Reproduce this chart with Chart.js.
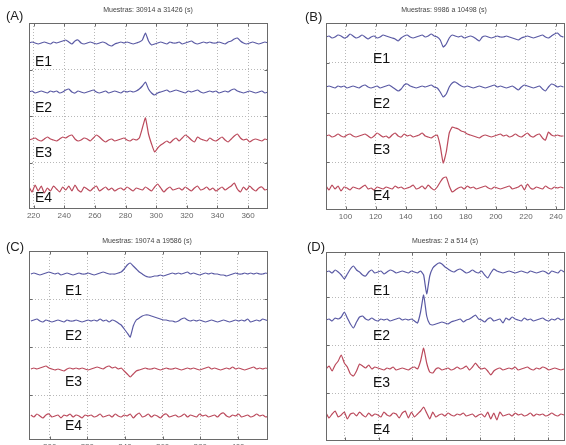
<!DOCTYPE html>
<html><head><meta charset="utf-8">
<script src="https://cdn.jsdelivr.net/npm/chart.js@4"></script>
<style>
html,body{margin:0;padding:0;background:#fff;width:566px;height:445px;overflow:hidden;position:relative;font-family:"Liberation Sans",Arial,sans-serif}
canvas{position:absolute}
.t{position:absolute;white-space:nowrap;line-height:1}
.let{font-size:13px;color:#222}
.tit{font-size:7px;color:#444;transform:translateX(-50%)}
.e{font-size:14px;color:#111}
</style></head><body>
<canvas id="cA" width="283" height="222" style="left:0;top:0"></canvas>
<canvas id="cB" width="283" height="222" style="left:283px;top:0"></canvas>
<canvas id="cC" width="283" height="236" style="left:0;top:222px"></canvas>
<canvas id="cD" width="283" height="236" style="left:283px;top:222px"></canvas>

<div class="t let" style="left:6px;top:9px">(A)</div>
<div class="t let" style="left:305px;top:10px">(B)</div>
<div class="t let" style="left:6px;top:240px">(C)</div>
<div class="t let" style="left:307px;top:240px">(D)</div>

<div class="t tit" style="left:148px;top:6px">Muestras: 30914 a 31426 (s)</div>
<div class="t tit" style="left:444px;top:6px">Muestras: 9986 a 10498 (s)</div>
<div class="t tit" style="left:147px;top:237px">Muestras: 19074 a 19586 (s)</div>
<div class="t tit" style="left:445px;top:237px">Muestras: 2 a 514 (s)</div>

<div class="t e" style="left:35px;top:54px">E1</div>
<div class="t e" style="left:35px;top:100px">E2</div>
<div class="t e" style="left:35px;top:145px">E3</div>
<div class="t e" style="left:35px;top:190px">E4</div>

<div class="t e" style="left:373px;top:51px">E1</div>
<div class="t e" style="left:373px;top:96px">E2</div>
<div class="t e" style="left:373px;top:142px">E3</div>
<div class="t e" style="left:373px;top:188px">E4</div>

<div class="t e" style="left:65px;top:283px">E1</div>
<div class="t e" style="left:65px;top:328px">E2</div>
<div class="t e" style="left:65px;top:374px">E3</div>
<div class="t e" style="left:65px;top:418px">E4</div>

<div class="t e" style="left:373px;top:283px">E1</div>
<div class="t e" style="left:373px;top:328px">E2</div>
<div class="t e" style="left:373px;top:375px">E3</div>
<div class="t e" style="left:373px;top:422px">E4</div>

<script>
// ---- Panel A: Muestras 30914 a 31426 ----
const ticksA = [220,240,260,280,300,320,340,360];
const startA = 217, stepA = 2;
const offsetsA = [166,117,69,20];
const gridYA = [46.5,93,139.5];
const A_E1 = [0,1,0,-1,0,1,0,-1,1,0, 1,2,3,1,-1,2,3,0,-1,0, 1,0,-1,0,1,0,-2,-3,-1,0, 1,0,1,0,-1,0,1,3,10,2, -2,-1,0,1,0,-1,1,0,0,1, -1,0,1,2,0,-1,0,1,0,1, 0,0,1,0,-1,1,2,4,5,2, 0,-1,0,1,0,-1,0,1,0];
const A_E2 = [0,1,-1,0,1,0,-1,1,0,1, -1,0,2,3,0,-1,1,0,-1,0, 1,2,0,-1,0,1,-1,0,1,0, -1,1,0,1,0,1,3,6,10,3, -1,-3,-1,0,1,2,0,1,2,1, 0,-1,1,0,1,2,0,-1,0,1, 0,1,-1,0,1,0,2,3,1,0, -1,0,1,0,-1,0,1,-1,0];
const A_E3 = [0,1,2,0,-1,1,3,1,0,-1, 1,3,2,4,5,1,-1,0,2,1, -1,2,5,3,0,-2,0,1,-1,0, 1,2,0,-1,1,0,2,12,22,6, -4,-12,-8,-5,-3,-1,-3,0,2,-1, 2,5,3,0,-2,3,1,0,-1,2, 0,-1,1,3,0,-2,1,4,6,2, 0,1,-2,0,1,0,-1,1,0];
const A_E4 = [2,-3,4,-2,3,-4,1,-2,3,0, -3,2,-1,3,-2,4,-1,-3,2,0, -2,1,3,-2,0,2,-1,1,-2,0, 1,-1,2,0,-2,1,0,-1,2,0, -2,2,5,1,-3,0,2,-1,0,1, -1,2,0,-2,1,3,-1,0,2,-1, 1,-2,0,2,-1,1,3,6,0,-3, 2,-1,3,0,-2,1,2,-1,0];

// ---- Panel B: Muestras 9986 a 10498 ----
const ticksB = [100,120,140,160,180,200,220,240];
const startB = 87, stepB = 2;
const offsetsB = [173,123,74,22];
const gridYB = [48,97,147];
const B_E1 = [0,1,-1,0,2,1,-1,0,3,1, -1,0,2,0,-2,0,1,-1,0,2, 1,0,-1,-2,-4,-1,1,2,0,-1, 0,1,2,0,1,3,1,0,-3,-10, -7,-1,2,1,0,1,-1,0,1,0, -2,-4,0,1,0,-1,0,1,0,0, 1,0,-1,-2,-3,-1,0,1,0,-1, 0,1,2,0,-1,1,3,4,1,0];
const B_E2 = [0,1,0,-1,1,0,1,-1,0,1, 0,-1,1,2,0,-1,0,1,-1,0, 1,2,0,-2,-4,-2,2,3,1,0, -1,0,1,0,1,2,0,-1,-5,-10, -7,0,4,5,3,1,0,1,0,-1, 0,1,0,-1,0,1,2,0,1,0, -1,0,1,-1,-3,0,2,1,0,-1, 0,1,-2,-4,0,3,2,0,1,0];
const B_E3 = [0,1,-1,0,2,0,-1,1,2,0, -1,0,1,2,0,-2,0,3,1,-1, 0,-2,1,3,0,-1,2,0,1,-1, 0,1,3,0,-1,-2,0,1,-10,-27, -16,3,9,8,7,5,4,2,1,0, -1,-2,0,1,0,-1,0,1,2,0, 1,-1,0,2,0,-1,1,3,0,-1, 1,2,-2,-4,4,1,0,1,0,0];
const B_E4 = [2,-2,3,-1,2,-3,1,0,-2,1, 0,-1,1,3,-1,0,-2,1,0,-1, 1,0,-1,2,0,1,-1,0,1,3, -1,0,2,-1,3,0,-2,1,6,10, 11,2,-4,-2,0,1,-1,2,0,1, -1,0,1,2,0,-1,1,0,-1,0, 1,2,-1,0,1,3,-2,4,0,-1, 1,0,-1,2,0,-1,1,0,1,0];

// ---- Panel C: Muestras 19074 a 19586 ----
const ticksC = [300,320,340,360,380,400];
const startC = 290, stepC = 1.6;
const offsetsC = [166,119,71,24];
const gridYC = [45,93,141];
const C_E1 = [0,1,0,-1,0,1,2,1,0,1, -1,0,1,0,-1,0,1,0,0,1, 0,-1,0,1,2,1,0,0,0,1, 2,5,9,11,8,5,2,0,-2,-3, -3,-2,-2,-1,-2,-1,0,1,0,1, 0,1,2,0,1,0,-1,0,1,0, 1,0,0,-1,-1,-2,-1,0,1,0, 0,1,0,1,0,1,0,0,1,0];
const C_E2 = [0,1,2,0,-1,1,0,-1,0,1, 0,-1,1,0,0,1,0,-1,0,1, 0,1,0,2,0,1,-1,1,0,-2, -4,-8,-12,-16,-5,1,3,5,6,6, 5,4,3,2,1,1,0,0,-1,0, 2,3,1,0,1,0,1,0,-1,0, 1,0,-1,0,1,0,-1,0,1,0, 1,0,2,-1,0,1,0,2,1,0];
const C_E3 = [0,1,0,1,2,3,1,0,-1,0, -1,-2,0,1,0,1,0,1,0,-1, 0,1,2,1,0,2,3,1,2,0, 1,-2,-5,-8,-5,-2,-1,0,1,0, 0,1,0,-1,0,1,0,0,1,0, -1,0,1,0,1,0,-1,0,1,2, 0,1,0,-1,0,1,0,2,0,1, 0,-1,0,1,2,0,1,0,1,0];
const C_E4 = [1,-1,2,0,-2,1,2,-1,0,1, -2,1,0,2,-1,1,0,-2,1,0, 1,-1,0,2,-1,0,1,-1,2,0, -1,1,0,2,-2,1,3,-1,0,2, -1,1,0,-2,1,2,-1,0,1,-1, 0,2,-1,1,0,-1,2,0,1,-1, 0,1,-1,2,3,0,-1,1,0,2, -1,0,1,-1,0,2,0,1,-1,0];

// ---- Panel D: Muestras 2 a 514 ----
const ticksD = [20,40,60,80,100,120,140];
const startD = 9, stepD = 1.8;
const offsetsD = [169,121,72,26];
const gridYD = [48,96,144];
const D_E1 = [0,1,-1,2,0,-3,-7,-2,3,6, 2,0,-3,-4,0,2,-1,0,1,-2, 0,2,1,-1,0,1,0,-1,1,0, -1,1,-3,-22,-4,4,7,9,8,5, 3,1,0,2,3,1,-1,0,2,0, -1,1,-3,-6,-1,3,1,0,-1,0, 1,0,-1,0,1,0,-1,1,0,-1, 0,1,0,-2,1,0,-1,2,0];
const D_E2 = [0,1,-1,2,1,3,8,2,-4,-8, -2,3,4,1,0,2,0,-1,1,0, 1,-1,0,1,2,0,1,0,1,-1, -3,8,25,4,-4,-5,-4,-3,-2,-3, -4,-2,-1,0,1,-2,0,1,3,5, 1,0,-2,1,2,-1,0,1,-3,2, 0,3,1,0,-1,2,0,1,-1,0, 1,2,0,-1,1,0,2,0,1];
const D_E3 = [0,3,-2,4,8,14,6,2,-5,-7, -2,5,3,1,4,0,2,1,0,-1, 1,0,2,-1,0,1,0,-1,1,2, 0,8,21,6,-3,-4,0,1,-1,0, 1,-1,0,2,0,1,3,-1,2,6, 2,0,1,-2,-6,-2,0,1,-1,0, 1,0,2,-1,0,1,2,0,-1,1, 0,2,1,-1,0,1,0,-1,0];
const D_E4 = [2,-3,1,4,-2,0,3,-4,1,2, -1,3,0,-2,2,-1,1,0,-2,3, 0,-1,2,1,-3,2,4,-3,3,-2, 1,4,8,2,-4,3,-2,0,1,-1, 2,0,-1,1,0,2,-1,0,1,-2, 0,1,-2,3,-4,2,-5,3,-1,0, 1,-1,2,0,1,-1,0,2,-1,1, 0,1,-1,0,2,0,-1,1,0];

const channelNames = ['E1','E2','E3','E4'];
const BLUE = '#5a5aa4', RED = '#bb4a5c';
const channelColors = [BLUE, BLUE, RED, RED];

const boxPlugin = {
  id: 'box',
  afterDraw(chart) {
    const {ctx, chartArea: a, scales: {x, y}} = chart;
    ctx.save();
    ctx.strokeStyle = '#6a6a6a';
    ctx.lineWidth = 1;
    const L = Math.round(a.left) + 0.5, R = Math.round(a.right) - 0.5;
    const T = Math.round(a.top) + 0.5, B = Math.round(a.bottom) - 0.5;
    ctx.strokeRect(L, T, R - L, B - T);
    ctx.beginPath();
    x.ticks.forEach(t => {
      const px = Math.round(x.getPixelForValue(t.value)) + 0.5;
      ctx.moveTo(px, B); ctx.lineTo(px, B - 3);
      ctx.moveTo(px, T); ctx.lineTo(px, T + 3);
    });
    y.ticks.forEach(t => {
      const py = Math.round(y.getPixelForValue(t.value)) + 0.5;
      ctx.moveTo(L, py); ctx.lineTo(L + 3, py);
      ctx.moveTo(R, py); ctx.lineTo(R - 3, py);
    });
    ctx.stroke();
    ctx.restore();
  }
};

function makePanel(id, start, step, series, offsets, ticksX, gridY, xMin, xMax, yMax, padding) {
  const datasets = series.map((vals, k) => ({
    label: channelNames[k],
    data: vals.map((v, i) => ({x: start + i * step, y: offsets[k] + v})),
    borderColor: channelColors[k],
    borderWidth: 1.2,
    pointRadius: 0,
    tension: 0.15,
    fill: false
  }));
  new Chart(document.getElementById(id), {
    type: 'line',
    data: {datasets},
    options: {
      responsive: false,
      animation: false,
      devicePixelRatio: 1,
      layout: {padding},
      plugins: {legend: {display: false}, tooltip: {enabled: false}, title: {display: false}},
      scales: {
        x: {
          type: 'linear', min: xMin, max: xMax,
          afterBuildTicks: s => { s.ticks = ticksX.map(v => ({value: v})); },
          afterFit: s => { s.height = 12; },
          ticks: {font: {size: 8, family: 'Liberation Sans, Arial'}, color: '#666', padding: 2, maxRotation: 0, autoSkip: false},
          grid: {color: '#b8b8b8', lineWidth: 1, drawTicks: false},
          border: {display: false, dash: [1, 2]}
        },
        y: {
          type: 'linear', min: 0, max: yMax,
          afterBuildTicks: s => { s.ticks = gridY.map(v => ({value: v})); },
          afterFit: s => { s.width = 0; },
          ticks: {display: false},
          grid: {color: '#b8b8b8', lineWidth: 1, drawTicks: false},
          border: {display: false, dash: [1, 2]}
        }
      }
    },
    plugins: [boxPlugin]
  });
}

makePanel('cA', startA, stepA, [A_E1, A_E2, A_E3, A_E4], offsetsA, ticksA, gridYA, 217, 373, 186, {left: 29, top: 23, right: 15, bottom: 1});
makePanel('cB', startB, stepB, [B_E1, B_E2, B_E3, B_E4], offsetsB, ticksB, gridYB, 87, 246, 187, {left: 43, top: 23, right: 1, bottom: 0});
makePanel('cC', startC, stepC, [C_E1, C_E2, C_E3, C_E4], offsetsC, ticksC, gridYC, 289, 416, 189, {left: 29, top: 29, right: 15, bottom: 6});
makePanel('cD', startD, stepD, [D_E1, D_E2, D_E3, D_E4], offsetsD, ticksD, gridYD, 9, 150, 189, {left: 43, top: 30, right: 1, bottom: 5});
</script>
</body></html>
